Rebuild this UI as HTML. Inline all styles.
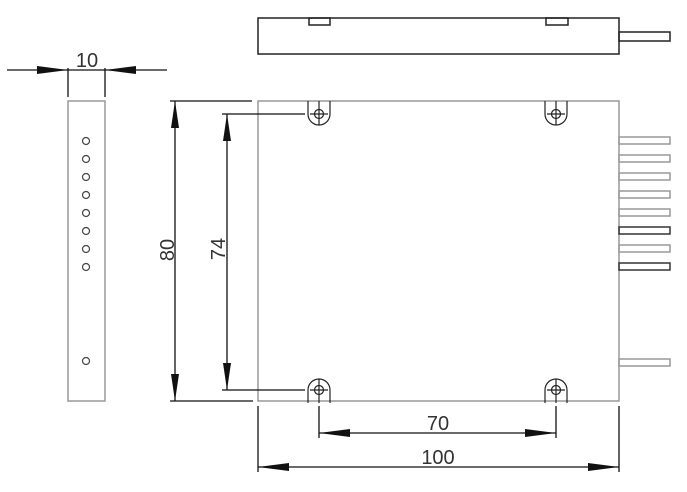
<!DOCTYPE html>
<html><head><meta charset="utf-8"><style>
html,body{margin:0;padding:0;background:#fff;}
svg{display:block;}
text{font-family:"Liberation Sans",sans-serif;fill:#333;font-size:20px;}
</style></head><body>
<svg width="687" height="492" viewBox="0 0 687 492" xmlns="http://www.w3.org/2000/svg">
<defs>
<g id="holeT" fill="none" stroke="#222" stroke-width="1.2">
  <path d="M-11 -13 V0 A11 11 0 0 0 11 0 V-13"/>
  <circle r="4.5"/>
  <line x1="-9" y1="0" x2="9" y2="0"/>
  <line x1="0" y1="-13" x2="0" y2="11"/>
</g>
</defs>
<g fill="none" stroke="#222" stroke-width="1.5">
  <rect x="258" y="18" width="361" height="36"/>
  <rect x="309" y="18" width="21" height="7"/>
  <rect x="546" y="18" width="22" height="7"/>
  <rect x="619" y="32" width="51" height="9"/>
</g>
<g fill="none" stroke="#999" stroke-width="1.5">
  <rect x="258" y="101" width="361" height="300"/>
  <rect x="619" y="137" width="51" height="7"/>
  <rect x="619" y="155" width="51" height="7"/>
  <rect x="619" y="173" width="51" height="7"/>
  <rect x="619" y="191" width="51" height="7"/>
  <rect x="619" y="209" width="51" height="7"/>
  <rect x="619" y="245" width="51" height="7"/>
  <rect x="619" y="359" width="51" height="7"/>
</g>
<g fill="none" stroke="#333" stroke-width="1.5">
  <rect x="619" y="227" width="51" height="7"/>
  <rect x="619" y="263" width="51" height="7"/>
</g>
<use href="#holeT" transform="translate(319,114)"/>
<use href="#holeT" transform="translate(556,114)"/>
<use href="#holeT" transform="translate(319,390) scale(1,-1)"/>
<use href="#holeT" transform="translate(556,390) scale(1,-1)"/>
<rect x="68" y="101" width="37" height="300" fill="none" stroke="#999" stroke-width="1.5"/>
<g fill="none" stroke="#444" stroke-width="1.2">
  <circle cx="86" cy="141" r="3.5"/><circle cx="86" cy="159" r="3.5"/>
  <circle cx="86" cy="177" r="3.5"/><circle cx="86" cy="195" r="3.5"/>
  <circle cx="86" cy="213" r="3.5"/><circle cx="86" cy="231" r="3.5"/>
  <circle cx="86" cy="249" r="3.5"/><circle cx="86" cy="267" r="3.5"/>
  <circle cx="86" cy="361" r="3.5"/>
</g>
<g stroke="#111" stroke-width="1.3" fill="none">
  <line x1="68" y1="68" x2="68" y2="97"/><line x1="105" y1="68" x2="105" y2="97"/>
  <line x1="7" y1="70" x2="167" y2="70"/>
  <line x1="170" y1="101" x2="252" y2="101"/>
  <line x1="170" y1="401" x2="253" y2="401"/>
  <line x1="175" y1="101" x2="175" y2="401"/>
  <line x1="222" y1="114" x2="305" y2="114"/>
  <line x1="222" y1="390" x2="305" y2="390"/>
  <line x1="227" y1="114" x2="227" y2="390"/>
  <line x1="319" y1="406" x2="319" y2="438"/><line x1="556" y1="406" x2="556" y2="438"/>
  <line x1="319" y1="433" x2="556" y2="433"/>
  <line x1="258" y1="406" x2="258" y2="472"/><line x1="619" y1="406" x2="619" y2="472"/>
  <line x1="258" y1="467" x2="619" y2="467"/>
</g>
<g fill="#111">
  <polygon points="68,70 37,66 37,74"/><polygon points="105,70 136,66 136,74"/>
  <polygon points="175,101 171,128 179,128"/><polygon points="175,401 171,374 179,374"/>
  <polygon points="227,114 223,141 231,141"/><polygon points="227,390 223,363 231,363"/>
  <polygon points="319,433 350,429 350,437"/><polygon points="556,433 525,429 525,437"/>
  <polygon points="258,467 289,463 289,471"/><polygon points="619,467 588,463 588,471"/>
</g>
<text x="87" y="67" text-anchor="middle">10</text>
<text x="438" y="430" text-anchor="middle">70</text>
<text x="438" y="464" text-anchor="middle">100</text>
<text transform="translate(174,250) rotate(-90)" text-anchor="middle">80</text>
<text transform="translate(225,249) rotate(-90)" text-anchor="middle">74</text>
</svg>
</body></html>
